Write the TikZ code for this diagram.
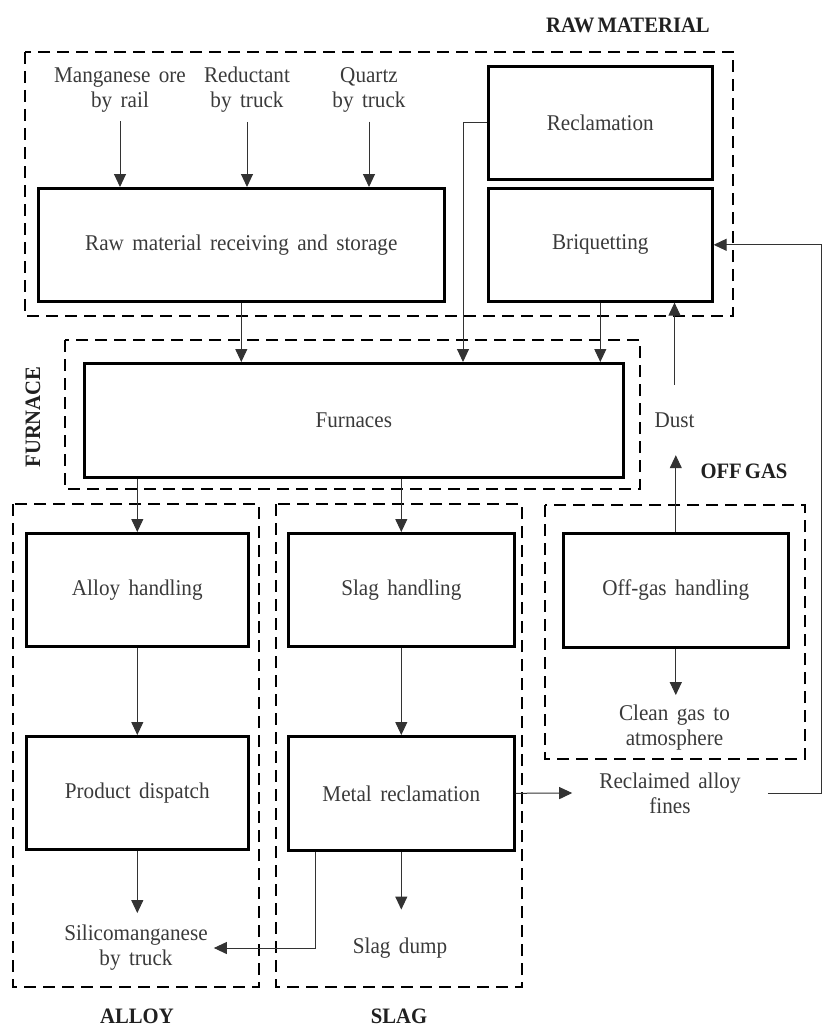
\documentclass[tikz,border=0pt]{standalone}
\usepackage{fontspec}
\setmainfont{Liberation Serif}[WordSpace=1.6, FakeStretch=0.94]
\newfontfamily\hdfont{Liberation Serif}[WordSpace=0.6, FakeStretch=0.94]
\usetikzlibrary{arrows.meta,calc}
\definecolor{txt}{HTML}{3A3A3A}
\definecolor{hd}{HTML}{202020}
\begin{document}
\begin{tikzpicture}[x=1pt,y=-1pt,
  box/.style={draw=black, line width=2.6pt, inner sep=0pt, anchor=north west,
    font=\fontsize{22.5}{25}\selectfont, text=txt},
  lbl/.style={font=\fontsize{22.5}{25}\selectfont, text=txt, align=center, inner sep=2pt},
  grp/.style={draw=black, line width=2.8pt, dash pattern=on 12pt off 7pt},
  head/.style={font=\hdfont\bfseries\fontsize{22}{25}\selectfont, text=hd, inner sep=0pt},
  arr/.style={line width=1pt, draw=black!80, -{Triangle[length=13pt,width=12pt]}},
  ln/.style={line width=1pt, draw=black!80}]
\useasboundingbox (0,0) rectangle (823,1030);

% group frames
\draw[grp] (25,52) rectangle (733,316);
\draw[grp] (65,340) rectangle (640,489);
\draw[grp] (13,504) rectangle (259,987);
\draw[grp] (276,504) rectangle (522,987);
\draw[grp] (545,505) rectangle (805,759);

% headings
\node[head] (hraw) at (628,25) {RAW MATERIAL};
\node[head, rotate=90] (hfur) at (33,417) {FURNACE};
\node[head] (hoff) at (744,471) {OFF GAS};
\node[head] (hall) at (137,1016) {ALLOY};
\node[head] (hslag) at (399,1016) {SLAG};

% boxes
\node[box, minimum width=406pt, minimum height=113pt] (recv) at (37,187) {Raw material receiving and storage};
\node[box, minimum width=224pt, minimum height=113pt] (recl) at (487,65) {Reclamation};
\node[box, minimum width=224pt, minimum height=113pt] (briq) at (487,187) {Briquetting};
\node[box, minimum width=539pt, minimum height=114pt] (furn) at (83,362) {Furnaces};
\node[box, minimum width=222pt, minimum height=113pt] (ah) at (25,532) {Alloy handling};
\node[box, minimum width=222pt, minimum height=113pt] (pd) at (25,735) {Product dispatch};
\node[box, minimum width=226pt, minimum height=113pt] (sh) at (287,532) {Slag handling};
\node[box, minimum width=226pt, minimum height=114pt] (mr) at (287,735) {Metal reclamation};
\node[box, minimum width=225pt, minimum height=114pt] (og) at (562,532) {Off-gas handling};

% text labels
\node[lbl, inner ysep=9pt] (mn) at (120,90) {Manganese ore\\by rail};
\node[lbl, inner ysep=9pt] (red) at (247,90) {Reductant\\by truck};
\node[lbl, inner ysep=9pt] (qz) at (369,90) {Quartz\\by truck};
\node[lbl, minimum height=70pt, inner sep=0pt] (dust) at (674.5,420) {Dust};
\node[lbl, inner ysep=10pt] (cg) at (674.5,728) {Clean gas to\\atmosphere};
\node[lbl, inner xsep=27pt] (raf) at (670,793) {Reclaimed alloy\\fines};
\node[lbl, inner xsep=6pt, inner ysep=12pt] (sm) at (136,948) {Silicomanganese\\by truck};
\node[lbl, inner ysep=28pt] (sd) at (400,948) {Slag dump};

\coordinate (rx) at (821.5,0);

% connectors
\draw[arr] (mn.south) -- (mn.south |- recv.north);
\draw[arr] (red.south) -- (red.south |- recv.north);
\draw[arr] (qz.south) -- (qz.south |- recv.north);
\draw[arr] (recv.south) -- (recv.south |- furn.north);
\draw[arr] (briq.south) -- (briq.south |- furn.north);
\draw[arr] (recl.west) -- ++(-24,0) coordinate (rcb) -- (rcb |- furn.north);
\draw[arr] (furn.south -| ah.north) -- (ah.north);
\draw[arr] (furn.south -| sh.north) -- (sh.north);
\draw[arr] (ah.south) -- (pd.north);
\draw[arr] (sh.south) -- (mr.north);
\draw[arr] (pd.south) -- (pd.south |- sm.north);
\draw[arr] (mr.south) -- (mr.south |- sd.north);
\draw[arr] ($(mr.south west)+(28,0)$) |- (sm.east);
\draw[arr] (mr.east) -- (raf.west);
\draw[arr] (raf.east) -| (rx |- briq.east) -- (briq.east);
\draw[arr] (og.south) -- (og.south |- cg.north);
\draw[arr] (og.north) -- (og.north |- dust.south);
\draw[arr] (dust.north) -- (dust.north |- briq.south);
\end{tikzpicture}
\end{document}
